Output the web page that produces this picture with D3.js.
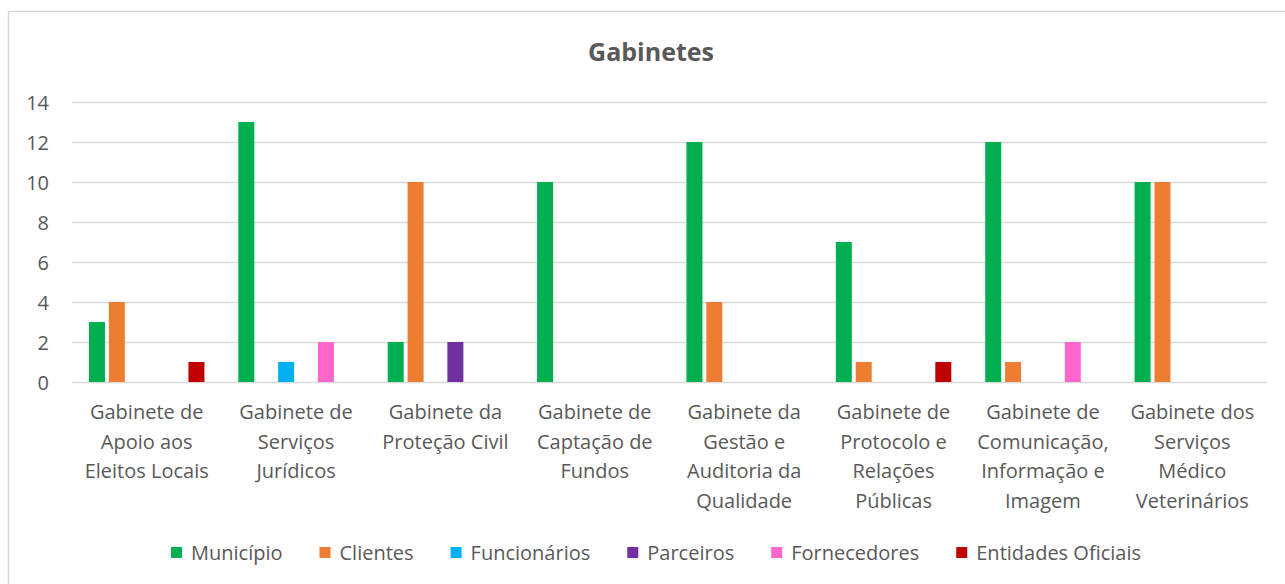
<html>
<head>
<meta charset="utf-8">
<script src="https://d3js.org/d3.v7.min.js"></script>
<style>
  body { margin: 0; background: #fff; }
  text { font-family: "Open Sans", "Lato", sans-serif; fill: #595959; }
</style>
</head>
<body>
<div id="chart"></div>
<script>
// categories (label lines) and series values
var categories = [
  ["Gabinete de", "Apoio aos", "Eleitos Locais"],
  ["Gabinete de", "Serviços", "Jurídicos"],
  ["Gabinete da", "Proteção Civil"],
  ["Gabinete de", "Captação de", "Fundos"],
  ["Gabinete da", "Gestão e", "Auditoria da", "Qualidade"],
  ["Gabinete de", "Protocolo e", "Relações", "Públicas"],
  ["Gabinete de", "Comunicação,", "Informação e", "Imagem"],
  ["Gabinete dos", "Serviços", "Médico", "Veterinários"]
];
var seriesNames = ["Município", "Clientes", "Funcionários", "Parceiros", "Fornecedores", "Entidades Oficiais"];
var seriesColors = ["#00b050", "#ed7d31", "#00b0f0", "#7030a0", "#ff66cc", "#c00000"];

var municipio    = [3, 13, 2, 10, 12, 7, 12, 10];
var clientes     = [4, 0, 10, 0, 4, 1, 1, 10];
var funcionarios = [0, 1, 0, 0, 0, 0, 0, 0];
var parceiros    = [0, 0, 2, 0, 0, 0, 0, 0];
var fornecedores = [0, 2, 0, 0, 0, 0, 2, 0];
var entidades    = [1, 0, 0, 0, 0, 1, 0, 0];
var yTicks = [0, 2, 4, 6, 8, 10, 12, 14];

var seriesValues = [municipio, clientes, funcionarios, parceiros, fornecedores, entidades];

var width = 1285, height = 584;
var svg = d3.select("#chart").append("svg")
  .attr("width", width).attr("height", height);

// chart border
svg.append("rect")
  .attr("x", 8.5).attr("y", 11.5)
  .attr("width", 1290).attr("height", 600)
  .attr("fill", "none").attr("stroke", "#d9d9d9").attr("stroke-width", 1.5);

// title
svg.append("text")
  .text("Gabinetes")
  .attr("x", 651).attr("y", 61)
  .attr("text-anchor", "middle")
  .style("font-size", "25px").style("font-weight", "bold");

var idx = d3.range(categories.length);
var x = d3.scaleBand().domain(idx).range([72, 1267]).paddingInner(0).paddingOuter(0);
var groupFrac = 0.773;
var xSeries = d3.scaleBand().domain(d3.range(seriesNames.length))
  .range([0, x.bandwidth() * groupFrac]).paddingInner(0.196);
var groupOffset = x.bandwidth() * (1 - groupFrac) / 2;
var y = d3.scaleLinear().domain([0, 14]).range([382, 102]);

// gridlines
var grid = svg.append("g")
  .call(d3.axisLeft(y).tickValues(yTicks).tickSize(-(1267 - 72)).tickFormat(""))
  .attr("transform", "translate(72,0)");
grid.select(".domain").remove();
grid.selectAll("line").attr("stroke", "#d9d9d9").attr("stroke-width", 1.5);

// y axis labels
var yAxis = svg.append("g")
  .attr("transform", "translate(49,0)")
  .call(d3.axisLeft(y).tickValues(yTicks).tickSize(0).tickPadding(0));
yAxis.select(".domain").remove();
yAxis.selectAll("text").style("font-size", "20px").style("font-family", "Open Sans").attr("fill", "#595959").attr("dy", "0.35em");

// bars
seriesValues.forEach(function (vals, s) {
  var pts = vals.map(function (v, i) { return { v: v, i: i }; })
    .filter(function (d) { return d.v > 0; });
  svg.append("g").selectAll("rect")
    .data(pts)
    .enter().append("rect")
    .attr("x", function (d) { return x(d.i) + groupOffset + xSeries(s); })
    .attr("y", function (d) { return y(d.v); })
    .attr("width", xSeries.bandwidth())
    .attr("height", function (d) { return y(0) - y(d.v); })
    .attr("fill", seriesColors[s]);
});

// category labels
var lab = svg.append("g").selectAll("text")
  .data(categories)
  .enter().append("text")
  .attr("text-anchor", "middle")
  .style("font-size", "20px");
lab.each(function (lines, i) {
  var t = d3.select(this);
  lines.forEach(function (ln, k) {
    t.append("tspan")
      .attr("x", x(i) + x.bandwidth() / 2)
      .attr("y", 419 + k * 29.6)
      .text(ln);
  });
});

// legend
var legend = svg.append("g");
var cursor = 0, gap = 37;
seriesNames.forEach(function (name, s) {
  var g = legend.append("g").attr("transform", "translate(" + cursor + ",0)");
  g.append("rect").attr("x", 0).attr("y", -6).attr("width", 11).attr("height", 11)
    .attr("fill", seriesColors[s]);
  var t = g.append("text").attr("x", 20).attr("y", 0).attr("dy", "0.35em")
    .style("font-size", "20px").text(name);
  cursor += 20 + t.node().getComputedTextLength() + gap;
});
var legendWidth = cursor - gap;
legend.attr("transform", "translate(" + (656 - legendWidth / 2) + ",553)");
</script>
</body>
</html>
